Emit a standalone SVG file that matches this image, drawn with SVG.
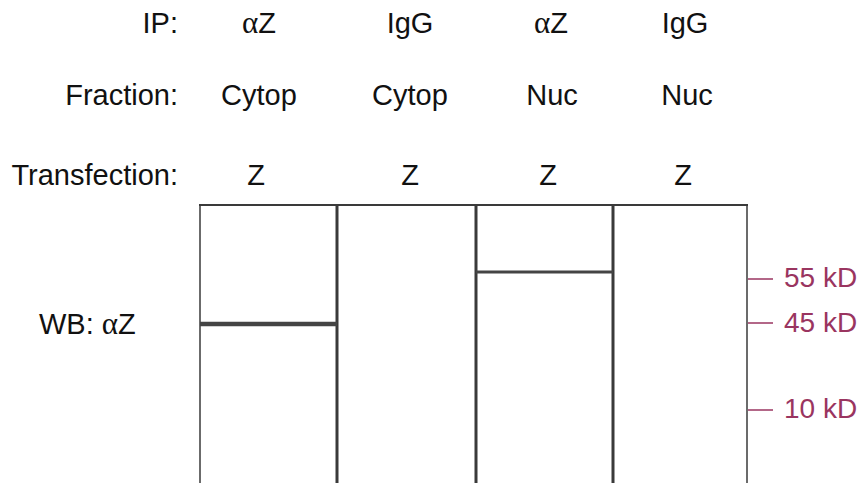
<svg xmlns="http://www.w3.org/2000/svg" width="862" height="483" viewBox="0 0 862 483">
  <style>
    .lbl { font-family: "Liberation Sans", Arial, sans-serif; font-size: 29px; fill: #111; }
    .gr { font-family: "Liberation Serif", "Times New Roman", serif; font-size: 31px; }
    .r { text-anchor: end; }
    .c { text-anchor: middle; }
    .mw { font-family: "Liberation Sans", Arial, sans-serif; font-size: 28px; fill: #9a3560; }
    .edge { stroke: #3a3a3a; fill: none; }
    .tick { stroke: #9a3560; stroke-width: 1.5; }
  </style>
  <rect width="862" height="483" fill="#ffffff"/>

  <!-- row headers -->
  <g id="headers">
    <text class="lbl r" x="178" y="33">IP:</text>
    <text class="lbl r" x="178" y="105">Fraction:</text>
    <text class="lbl r" x="178" y="185">Transfection:</text>
    <text class="lbl" x="39" y="334">WB: <tspan class="gr">α</tspan>Z</text>
  </g>

  <!-- lane labels -->
  <g id="lane1-labels">
    <text class="lbl c" x="259" y="33"><tspan class="gr">α</tspan>Z</text>
    <text class="lbl c" x="259" y="105">Cytop</text>
    <text class="lbl c" x="256" y="185">Z</text>
  </g>
  <g id="lane2-labels">
    <text class="lbl c" x="410" y="33">IgG</text>
    <text class="lbl c" x="410" y="105">Cytop</text>
    <text class="lbl c" x="410" y="185">Z</text>
  </g>
  <g id="lane3-labels">
    <text class="lbl c" x="551" y="33"><tspan class="gr">α</tspan>Z</text>
    <text class="lbl c" x="552" y="105">Nuc</text>
    <text class="lbl c" x="548" y="185">Z</text>
  </g>
  <g id="lane4-labels">
    <text class="lbl c" x="685" y="33">IgG</text>
    <text class="lbl c" x="687" y="105">Nuc</text>
    <text class="lbl c" x="683" y="185">Z</text>
  </g>

  <!-- blot frame and lanes -->
  <g id="blot">
    <line class="edge" x1="199" y1="205" x2="748" y2="205" stroke-width="2"/>
    <line class="edge" x1="200" y1="205" x2="200" y2="483" stroke-width="1.5"/>
    <line class="edge" x1="337" y1="205" x2="337" y2="483" stroke-width="3"/>
    <line class="edge" x1="476" y1="205" x2="476" y2="483" stroke-width="3"/>
    <line class="edge" x1="613" y1="205" x2="613" y2="483" stroke-width="3"/>
    <line class="edge" x1="747" y1="205" x2="747" y2="483" stroke-width="1.5"/>
  </g>

  <!-- bands -->
  <g id="bands">
    <line x1="200" y1="324" x2="337" y2="324" stroke="#444" stroke-width="4.5"/>
    <line x1="476" y1="272" x2="613" y2="272" stroke="#444" stroke-width="3"/>
  </g>

  <!-- molecular weight markers -->
  <g id="markers">
    <line class="tick" x1="748" y1="279" x2="773" y2="279"/>
    <line class="tick" x1="748" y1="323" x2="773" y2="323"/>
    <line class="tick" x1="748" y1="410" x2="773" y2="410"/>
    <text class="mw" x="784" y="287">55 kD</text>
    <text class="mw" x="784" y="332">45 kD</text>
    <text class="mw" x="784" y="418">10 kD</text>
  </g>
</svg>
